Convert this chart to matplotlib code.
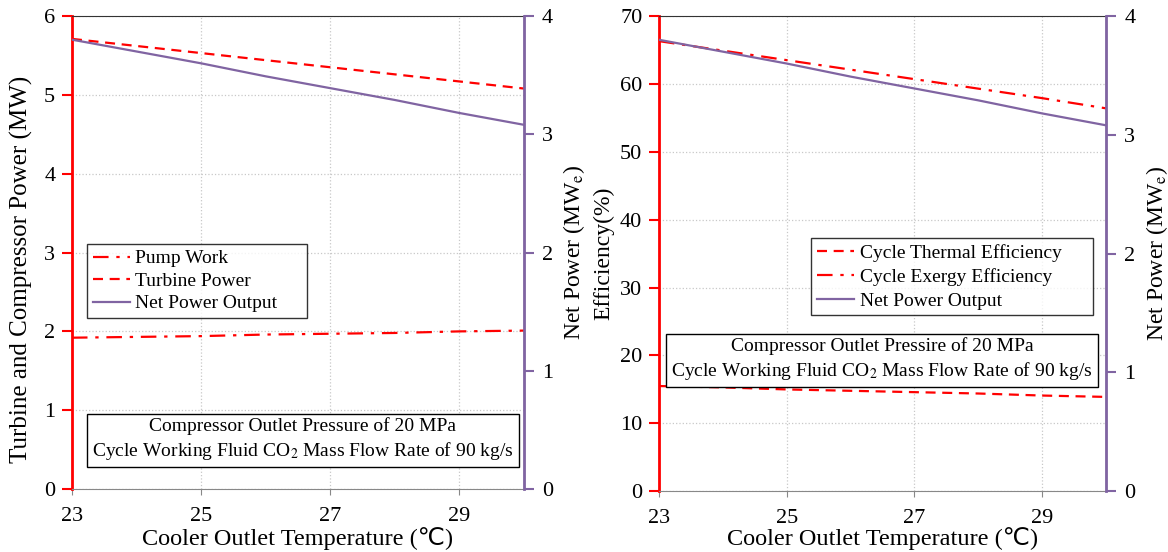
import matplotlib
matplotlib.use("Agg")
import matplotlib.pyplot as plt

plt.rcParams['font.family'] = ['Liberation Serif', 'STIXGeneral', 'DejaVu Sans']
plt.rcParams['mathtext.fontset'] = 'stix'

# Cooler outlet temperature (C)
temps = [23, 24, 25, 26, 27, 28, 29, 30]

# left panel (MW)
pump_work = [1.92, 1.93, 1.94, 1.96, 1.97, 1.98, 2.00, 2.01]
turbine_power = [5.71, 5.62, 5.53, 5.44, 5.35, 5.26, 5.17, 5.08]
# net power (MWe), shared by both panels
net_power = [3.80, 3.70, 3.60, 3.49, 3.39, 3.29, 3.18, 3.08]

# right panel (%)
thermal_eff = [15.5, 15.3, 15.0, 14.8, 14.6, 14.4, 14.1, 13.9]
exergy_eff = [66.3, 64.9, 63.5, 62.1, 60.7, 59.3, 57.9, 56.4]

xticks = [23, 25, 27, 29]
RED = '#ff0000'
PURPLE = '#8064a2'
note_left = "Compressor Outlet Pressure of 20 MPa\nCycle Working Fluid CO$_2$ Mass Flow Rate of 90 kg/s"
note_right = "Compressor Outlet Pressire of 20 MPa\nCycle Working Fluid CO$_2$ Mass Flow Rate of 90 kg/s"
DASHDOT = (0, (7, 3.5, 1.5, 3.5))
DASHED = (0, (4.5, 3))

fig = plt.figure(figsize=(11.68, 5.52), dpi=100)
ax1 = fig.add_axes([0.0616, 0.114, 0.387, 0.857])
ax2 = fig.add_axes([0.5642, 0.110, 0.3828, 0.861])


def style_axes(ax, axr, ymax, ystep, xlab_y):
    ax.set_xlim(23, 30)
    ax.set_ylim(0, ymax)
    ax.set_yticks(range(0, ymax + 1, ystep))
    ax.set_xticks(xticks)
    axr.set_ylim(0, 4)
    axr.set_yticks([0, 1, 2, 3, 4])
    ax.grid(True, color='#c8c8c8', linestyle=':', linewidth=0.9)
    ax.spines['left'].set_color(RED)
    ax.spines['left'].set_linewidth(2)
    ax.spines['top'].set_color('#333333')
    ax.spines['bottom'].set_color('#888888')
    axr.spines['right'].set_color(PURPLE)
    axr.spines['right'].set_linewidth(2)
    axr.spines['left'].set_visible(False)
    axr.spines['top'].set_visible(False)
    axr.spines['bottom'].set_visible(False)
    ax.tick_params(axis='y', colors=RED, labelcolor='black', labelsize=16, width=1.5, length=7, pad=5)
    ax.tick_params(axis='x', colors='#888888', labelcolor='black', labelsize=16, length=4, pad=9)
    axr.tick_params(axis='y', colors=PURPLE, labelcolor='black', labelsize=16, width=1.5, length=7, pad=6)
    ax.xaxis.set_label_coords(0.5, xlab_y)


def add_note(axr, ax, text, x, y):
    axr.text(x, y, text, transform=ax.transAxes, ha='center', va='center',
             fontsize=14, linespacing=1.3,
             bbox=dict(boxstyle='square,pad=0.25', facecolor='white', edgecolor='black', linewidth=1.0))


def add_legend(axr, handles, anchor, spacing):
    leg = axr.legend(handles=handles, loc='upper left', bbox_to_anchor=anchor, mode='expand',
                     borderaxespad=0, fontsize=14, frameon=True, fancybox=False, edgecolor='black',
                     handlelength=1.9, handletextpad=0.3, borderpad=0.3, labelspacing=spacing)
    leg.get_frame().set_linewidth(1.0)
    return leg


# left panel
axr1 = ax1.twinx()
style_axes(ax1, axr1, 6, 1, -0.080)
l1, = ax1.plot(temps, pump_work, color=RED, linestyle=DASHDOT, linewidth=1.6, label='Pump Work')
l2, = ax1.plot(temps, turbine_power, color=RED, linestyle=DASHED, linewidth=1.6, label='Turbine Power')
l3, = axr1.plot(temps, net_power, color=PURPLE, linewidth=1.6, label='Net Power Output')
ax1.set_xlabel('Cooler Outlet Temperature (\u2103)', fontsize=17.5)
ax1.set_ylabel('Turbine and Compressor Power (MW)', fontsize=18)
ax1.yaxis.set_label_coords(-0.086, 0.465)
axr1.set_ylabel('Net Power (MW$_\\mathrm{e}$)', fontsize=17, labelpad=6)
add_legend(axr1, [l1, l2, l3], (0.033, 0.418, 0.487, 0.1), 0.25)
add_note(axr1, ax1, note_left, 0.511, 0.105)

# right panel
axr2 = ax2.twinx()
style_axes(ax2, axr2, 70, 10, -0.076)
r1, = ax2.plot(temps, thermal_eff, color=RED, linestyle=DASHED, linewidth=1.6, label='Cycle Thermal Efficiency')
r2, = ax2.plot(temps, exergy_eff, color=RED, linestyle=DASHDOT, linewidth=1.6, label='Cycle Exergy Efficiency')
r3, = axr2.plot(temps, net_power, color=PURPLE, linewidth=1.6, label='Net Power Output')
ax2.set_xlabel('Cooler Outlet Temperature (\u2103)', fontsize=17.5)
ax2.set_ylabel('Efficiency(%)', fontsize=17, labelpad=4)
axr2.set_ylabel('Net Power (MW$_\\mathrm{e}$)', fontsize=17, labelpad=6)
add_legend(axr2, [r1, r2, r3], (0.340, 0.433, 0.631, 0.1), 0.32)
add_note(axr2, ax2, note_right, 0.499, 0.277)

fig.savefig('out.png', dpi=100)
